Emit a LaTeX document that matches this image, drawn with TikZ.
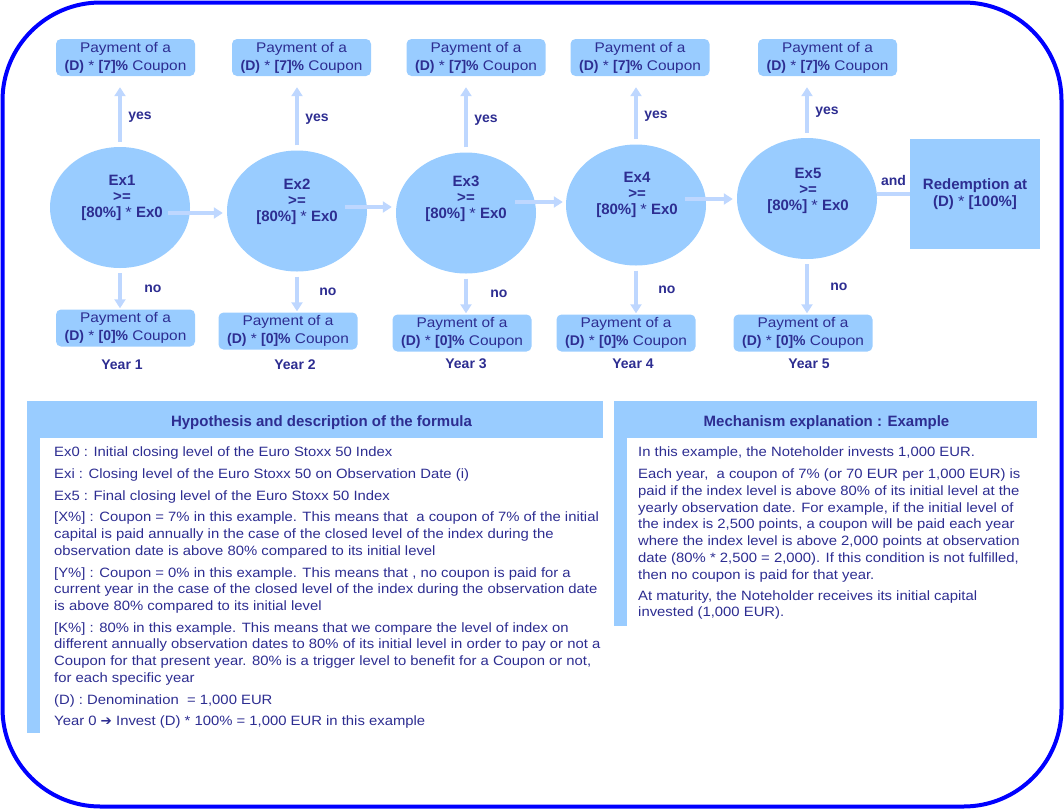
\documentclass[tikz,border=0pt]{standalone}
\usepackage{fontspec}
\setmainfont{Liberation Sans}[UprightFeatures={FakeStretch=1.1}]
\newfontfamily\dejavu{DejaVu Sans}
\usetikzlibrary{arrows.meta,shapes.geometric}
\definecolor{navy}{RGB}{45,45,145}
\definecolor{skyfill}{RGB}{153,204,255}
\definecolor{flowblue}{RGB}{190,215,255}
\definecolor{frameblue}{RGB}{0,0,255}
\tikzstyle{payment}=[
	rectangle,
	rounded corners=5pt,
	fill=skyfill,
	text=navy,
	align=center,
	inner sep=0pt,
	minimum width=139pt,
	minimum height=37pt,
	font=\fontsize{14}{18}\selectfont
]
\tikzstyle{trigger}=[
	ellipse,
	fill=skyfill,
	inner sep=0pt,
	minimum width=140pt,
	minimum height=121pt
]
\tikzstyle{triggertext}=[
	text=navy,
	align=center,
	font=\fontsize{15}{16}\selectfont\bfseries
]
\tikzstyle{redemption}=[
	rectangle,
	fill=skyfill,
	text=navy,
	align=center,
	minimum width=130pt,
	minimum height=110pt,
	font=\fontsize{15}{17}\selectfont\bfseries
]
\tikzstyle{flow}=[
	-{Triangle[width=11pt,length=9pt]},
	draw=flowblue,
	line width=4.5pt
]
\tikzstyle{answer}=[
	text=navy,
	inner sep=0pt,
	font=\fontsize{14}{16}\selectfont\bfseries
]
\tikzstyle{panelhead}=[
	text=navy,
	font=\fontsize{15}{16}\selectfont\bfseries
]
\tikzstyle{bodytext}=[
	text=navy,
	align=left,
	anchor=north west,
	inner sep=0pt,
	font=\fontsize{13.5}{16.75}\selectfont
]

\begin{document}
\begin{tikzpicture}[x=1pt,y=-1pt]
\useasboundingbox (0,0) rectangle (1064,809);
\draw[frameblue, line width=4pt, rounded corners=98pt] (2.5,2.5) rectangle (1061.5,806.5);

% observation dates
\node [trigger] (c1) at (120,207.5) {};
\node [trigger] (c2) at (297,211) {};
\node [trigger] (c3) at (466,213) {};
\node [trigger] (c4) at (636,205) {};
\node [trigger] (c5) at (807,198.5) {};
\node [triggertext] (t1) at (122,198) {Ex1\\>=\\{[80\%]} {\mdseries *} Ex0};
\node [triggertext] (t2) at (297,202) {Ex2\\>=\\{[80\%]} {\mdseries *} Ex0};
\node [triggertext] (t3) at (466,199) {Ex3\\>=\\{[80\%]} {\mdseries *} Ex0};
\node [triggertext] (t4) at (637,194.5) {Ex4\\>=\\{[80\%]} {\mdseries *} Ex0};
\node [triggertext] (t5) at (808,190.5) {Ex5\\>=\\{[80\%]} {\mdseries *} Ex0};

% coupons
\node [payment] (y1) at (125.5,57.5) {Payment of a\\\textbf{(D)} * \textbf{[7]\%} Coupon};
\node [payment] (y2) at (301.5,57.5) {Payment of a\\\textbf{(D)} * \textbf{[7]\%} Coupon};
\node [payment] (y3) at (476,57.5) {Payment of a\\\textbf{(D)} * \textbf{[7]\%} Coupon};
\node [payment] (y4) at (640,57.5) {Payment of a\\\textbf{(D)} * \textbf{[7]\%} Coupon};
\node [payment] (y5) at (827.5,57.5) {Payment of a\\\textbf{(D)} * \textbf{[7]\%} Coupon};
\node [payment] (n1) at (125.5,328) {Payment of a\\\textbf{(D)} * \textbf{[0]\%} Coupon};
\node [payment] (n2) at (288,331) {Payment of a\\\textbf{(D)} * \textbf{[0]\%} Coupon};
\node [payment] (n3) at (462,333) {Payment of a\\\textbf{(D)} * \textbf{[0]\%} Coupon};
\node [payment] (n4) at (626,333) {Payment of a\\\textbf{(D)} * \textbf{[0]\%} Coupon};
\node [payment] (n5) at (803,333) {Payment of a\\\textbf{(D)} * \textbf{[0]\%} Coupon};
\node [answer] (yr1) at (122,365) {Year 1};
\node [answer] (yr2) at (295,365) {Year 2};
\node [answer] (yr3) at (466,364) {Year 3};
\node [answer] (yr4) at (633,364) {Year 4};
\node [answer] (yr5) at (809,364) {Year 5};
\node [redemption] (red) at (975,194) {Redemption at\\(D) {\mdseries *} [100\%]};

% yes / no
\draw [flow, shorten <=5pt, shorten >=11pt] (c1.north) -- (c1.north |- y1.south) node [answer, pos=.42, anchor=west, xshift=6pt] {yes};
\draw [flow, shorten <=5pt, shorten >=11pt] (c2.north) -- (c2.north |- y2.south) node [answer, pos=.42, anchor=west, xshift=6pt] {yes};
\draw [flow, shorten <=5pt, shorten >=11pt] (c3.north) -- (c3.north |- y3.south) node [answer, pos=.42, anchor=west, xshift=6pt] {yes};
\draw [flow, shorten <=5pt, shorten >=11pt] (c4.north) -- (c4.north |- y4.south) node [answer, pos=.42, anchor=west, xshift=6pt] {yes};
\draw [flow, shorten <=5pt, shorten >=11pt] (c5.north) -- (c5.north |- y5.south) node [answer, pos=.42, anchor=west, xshift=6pt] {yes};
\draw [flow, shorten <=5pt, shorten >=1pt] (c1.south) -- (c1.south |- n1.north) node [answer, midway, anchor=west, xshift=22pt] {no};
\draw [flow, shorten <=5pt, shorten >=1pt] (c2.south) -- (c2.south |- n2.north) node [answer, midway, anchor=west, xshift=20pt] {no};
\draw [flow, shorten <=5pt, shorten >=1pt] (c3.south) -- (c3.south |- n3.north) node [answer, midway, anchor=west, xshift=22pt] {no};
\draw [flow, shorten <=5pt, shorten >=1pt] (c4.south) -- (c4.south |- n4.north) node [answer, midway, anchor=west, xshift=20pt] {no};
\draw [flow, shorten <=5pt, shorten >=1pt] (c5.south) -- (c5.south |- n5.north) node [answer, midway, anchor=west, xshift=21pt] {no};

% next year
\draw [flow] ([xshift=-22pt,yshift=-5.5pt]c1.east) -- ([xshift=-4pt,yshift=-2pt]c2.west);
\draw [flow] ([xshift=-22pt,yshift=4pt]c2.east) -- ([xshift=-4pt,yshift=6pt]c3.west);
\draw [flow] ([xshift=-21pt,yshift=11pt]c3.east) -- ([xshift=-3pt,yshift=3pt]c4.west);
\draw [flow] ([xshift=-21pt,yshift=6pt]c4.east) -- ([xshift=-4pt,yshift=-0.5pt]c5.west);
\draw [draw=flowblue, line width=4.5pt] (red.west -| c5.east) -- (red.west) node [answer, midway, anchor=south, yshift=6pt] {and};

% hypothesis panel
\fill [skyfill] (27,401) rectangle (603,438);
\fill [skyfill] (27,438) rectangle (40,733);
\node [panelhead] (hyp) at (321.5,423) {Hypothesis and description of the formula};
\node [bodytext] (hyptext) at (54,447) {Ex0 : Initial closing level of the Euro Stoxx 50 Index\\[4.9pt]
Exi : Closing level of the Euro Stoxx 50 on Observation Date (i)\\[4.9pt]
Ex5 : Final closing level of the Euro Stoxx 50 Index\\[4.9pt]
[X\%] : Coupon = 7\% in this example. This means that\ \ a coupon of 7\% of the initial\\
capital is paid annually in the case of the closed level of the index during the\\
observation date is above 80\% compared to its initial level\\[4.9pt]
[Y\%] : Coupon = 0\% in this example. This means that , no coupon is paid for a\\
current year in the case of the closed level of the index during the observation date\\
is above 80\% compared to its initial level\\[4.9pt]
[K\%] : 80\% in this example. This means that we compare the level of index on\\
different annually observation dates to 80\% of its initial level in order to pay or not a\\
Coupon for that present year. 80\% is a trigger level to benefit for a Coupon or not,\\
for each specific year\\[4.9pt]
(D) : Denomination\ \ = 1,000 EUR\\[4.9pt]
Year 0 {\dejavu\bfseries ➔} Invest (D) * 100\% = 1,000 EUR in this example};

% mechanism panel
\fill [skyfill] (614,401) rectangle (1037,438);
\fill [skyfill] (614,438) rectangle (627,626);
\node [panelhead] (mech) at (826.5,423) {Mechanism explanation : Example};
\node [bodytext] (mechtext) at (638,447) {In this example, the Noteholder invests 1,000 EUR.\\[4.9pt]
Each year,\ \ a coupon of 7\% (or 70 EUR per 1,000 EUR) is\\
paid if the index level is above 80\% of its initial level at the\\
yearly observation date. For example, if the initial level of\\
the index is 2,500 points, a coupon will be paid each year\\
where the index level is above 2,000 points at observation\\
date (80\% * 2,500 = 2,000). If this condition is not fulfilled,\\
then no coupon is paid for that year.\\[4.3pt]
At maturity, the Noteholder receives its initial capital\\
invested (1,000 EUR).};
\end{tikzpicture}
\end{document}
